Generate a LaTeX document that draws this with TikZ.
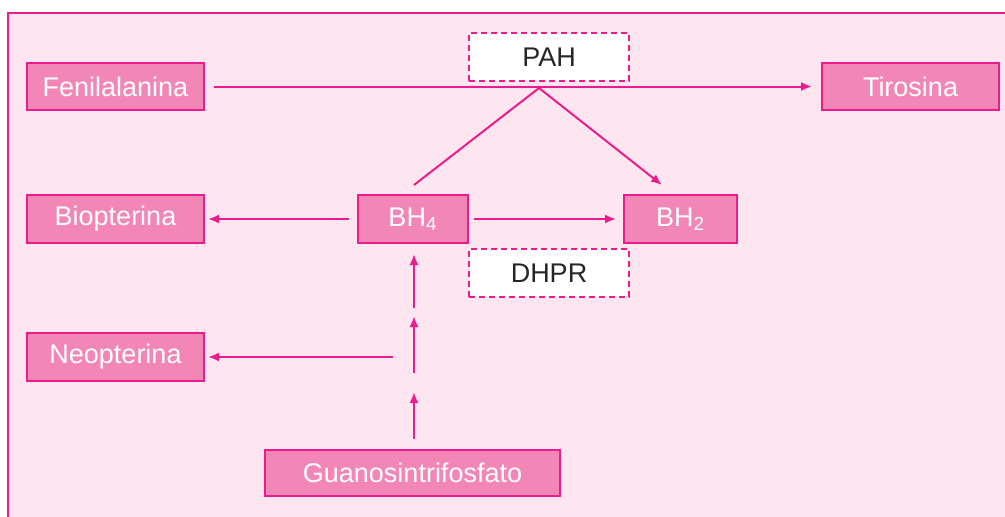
\documentclass[tikz,border=0pt]{standalone}
\usepackage{fontspec}
\setmainfont{Liberation Sans}
\usetikzlibrary{arrows.meta}
\definecolor{rosa}{HTML}{EC1C8C}
\definecolor{rosafill}{HTML}{F287B7}
\definecolor{rosabg}{HTML}{FDE6F0}
\begin{document}
\begin{tikzpicture}[>={Latex[length=5.5pt,width=4.5pt]},x=0.5pt,y=-0.5pt,
	molbox/.style={draw=rosa,line width=1pt,fill=rosafill,text=white,inner sep=0pt,
		font=\fontsize{13.5}{15}\selectfont},
	enzbox/.style={draw=rosa,line width=0.8pt,dash pattern=on 3pt off 2pt,fill=white,
		text=black!85,inner sep=0pt,minimum width=80pt,minimum height=24pt,
		font=\fontsize{13.5}{15}\selectfont},
	conn/.style={draw=rosa,line width=1pt}]
	\useasboundingbox (0,0) rectangle (1005,516);
	% marco
	\draw[rosa,fill=rosabg,line width=1.3pt] (8,13) rectangle (1020,530);
	% nodos
	\node[molbox,minimum width=88.5pt,minimum height=23.5pt] (fen) at (115.5,86.5) {Fenilalanina};
	\node[molbox,minimum width=88.5pt,minimum height=23.5pt] (tir) at (910.5,86.5) {Tirosina};
	\node[enzbox] (pah) at (549,57) {PAH};
	\node[molbox,minimum width=55pt,minimum height=24pt] (bh4) at (413,219) {BH\textsubscript{4}};
	\node[molbox,minimum width=56.5pt,minimum height=24pt] (bh2) at (680.5,219) {BH\textsubscript{2}};
	\node[enzbox] (dhpr) at (549,273) {DHPR};
	\node[molbox,minimum width=88.5pt,minimum height=24pt] (bio) at (115.5,219) {Biopterina};
	\node[molbox,minimum width=88.5pt,minimum height=24pt] (neo) at (115.5,357) {Neopterina};
	\node[molbox,minimum width=147.5pt,minimum height=23pt] (gtp) at (412.5,473) {Guanosintrifosfato};
	% puntos auxiliares
	\coordinate (jn) at (539,88);
	\coordinate (a) at (414,185);
	\coordinate (b) at (662,185);
	\coordinate (m1) at (414,383);
	\coordinate (m2) at (414,312);
	\coordinate (n0) at (393,357);
	% flechas
	\draw[conn,->,shorten <=4.5pt,shorten >=4.5pt] (fen.east) -- (tir.west);
	\draw[conn] (jn) -- (a);
	\draw[conn,->] (jn) -- (b);
	\draw[conn,->,shorten <=2.5pt,shorten >=3.5pt] (bh4.east) -- (bh2.west);
	\draw[conn,->,shorten <=4pt,shorten >=1.5pt] (bh4.west) -- (bio.east);
	\draw[conn,->,shorten >=1.5pt] (n0) -- (neo.east);
	\draw[conn,->,shorten <=5pt,shorten >=4.5pt] (gtp.north -| m1) -- (m1);
	\draw[conn,->,shorten <=5pt,shorten >=2pt] (m1) -- (m2);
	\draw[conn,->,shorten <=2pt,shorten >=5pt] (m2) -- (bh4.south -| m2);
\end{tikzpicture}
\end{document}
